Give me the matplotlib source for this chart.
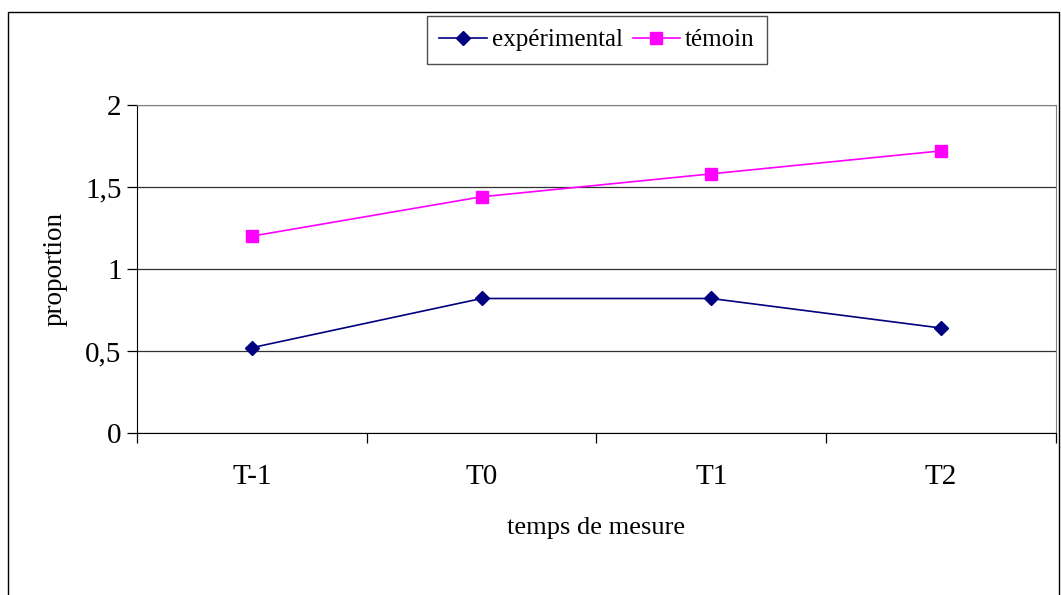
import matplotlib.pyplot as plt
from matplotlib.patches import Rectangle
from matplotlib.ticker import FuncFormatter

# data
categories = ['T-1', 'T0', 'T1', 'T2']
experimental = [0.52, 0.82, 0.82, 0.64]
temoin = [1.20, 1.44, 1.58, 1.72]
y_ticks = [0, 0.5, 1, 1.5, 2]

plt.rcParams['font.family'] = ['Liberation Serif', 'DejaVu Serif']

fig = plt.figure(figsize=(10.61, 5.95), dpi=100)
ax = fig.add_axes([0.1291, 0.2723, 0.866, 0.5513])

# outer chart border (Excel style)
fig.patches.append(Rectangle((8 / 1061, -0.05), (1059 - 8) / 1061, 1.05 - 12 / 595,
                             transform=fig.transFigure, fill=False,
                             edgecolor='black', linewidth=1.0))

x = list(range(len(categories)))
ax.plot(x, experimental, color='#000080', marker='D', markersize=7,
        linewidth=1.2, label='expérimental')
ax.plot(x, temoin, color='#FF00FF', marker='s', markersize=8,
        linewidth=1.2, label='témoin')

ax.set_xlim(-0.5, len(categories) - 0.5)
ax.set_ylim(0, 2)
ax.set_yticks(y_ticks)
ax.yaxis.set_major_formatter(FuncFormatter(lambda v, p: f'{v:g}'.replace('.', ',')))
ax.grid(axis='y', color='#303030', linewidth=0.9)
ax.set_axisbelow(True)

ax.set_xticks(x)
ax.set_xticklabels(categories)
ax.set_xticks([i - 0.5 for i in range(len(categories) + 1)], minor=True)
ax.tick_params(axis='x', which='major', length=0, pad=22, labelsize=21)
ax.tick_params(axis='x', which='minor', length=7, direction='out', width=0.9)
ax.tick_params(axis='y', length=7, width=0.9, pad=4, labelsize=21)

for side in ['top', 'right']:
    ax.spines[side].set_color('#808080')
for side in ['left', 'bottom']:
    ax.spines[side].set_color('black')

ax.set_xlabel('temps de mesure', fontsize=19, labelpad=20)
ax.set_ylabel('proportion', fontsize=19.5, labelpad=13)

leg = fig.legend(loc='center', bbox_to_anchor=(597 / 1061, 1 - 40 / 595), ncol=2,
                 fontsize=18, frameon=True, fancybox=False, edgecolor='#202020',
                 handlelength=1.9, handletextpad=0.2, columnspacing=0.4,
                 borderpad=0.5, borderaxespad=0)
leg.get_frame().set_linewidth(1.0)

fig.savefig('out.png', dpi=100)
